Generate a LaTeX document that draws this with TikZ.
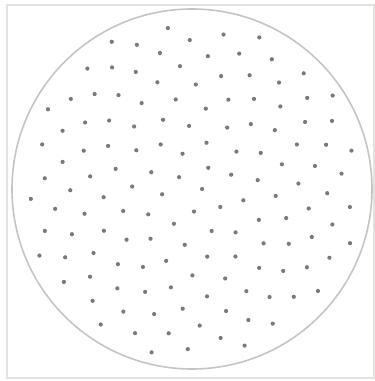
\documentclass[tikz,border=0pt]{standalone}
\usepackage{tikz}
\definecolor{framegray}{RGB}{226,226,222}
\definecolor{rimgray}{RGB}{196,196,196}
\definecolor{seedgray}{RGB}{125,118,122}

\begin{document}
\begin{tikzpicture}[x=1pt, y=1pt]
  % canvas
  \useasboundingbox (0,0) rectangle (375,381);

  % outer frame
  \draw[framegray, line width=2.5pt] (7,3) rectangle (374,376);

  % disc
  \draw[rimgray, line width=1.6pt] (192,192) circle (180);

  % seeds on a sunflower spiral
  \foreach \i in {0,...,139} {
    \pgfmathsetmacro\ang{10*mod(\i*13.7508,36)}
    \pgfmathsetmacro\rad{14.3*sqrt(\i+0.5)}
    \fill[seedgray, shift={(192,192)}] (\ang:\rad) circle (2.1);
  }
\end{tikzpicture}
\end{document}
